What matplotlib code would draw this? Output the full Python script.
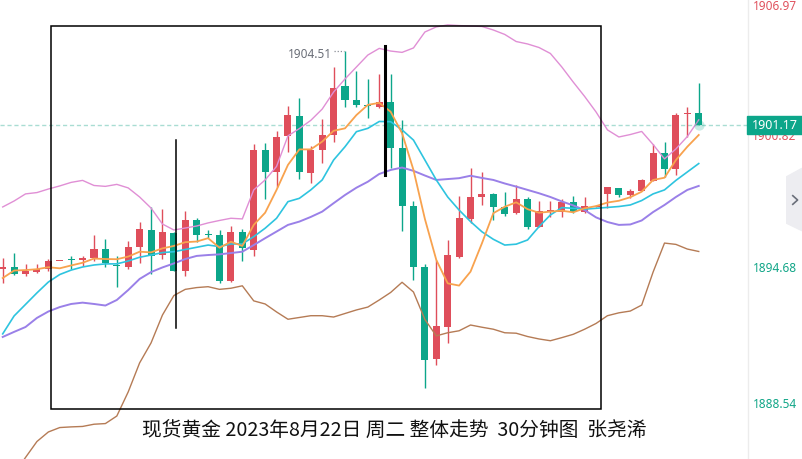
import matplotlib
matplotlib.use('Agg')
import matplotlib.pyplot as plt
import matplotlib.transforms as mtrans
from matplotlib.patches import Rectangle, Polygon
from matplotlib.lines import Line2D

# ---------------- data ----------------
opens = [1894.68, 1894.76, 1894.47, 1894.53, 1894.68, 1895.03, 1895.12, 1895.09, 1895.18, 1895.58,
         1894.86, 1894.78, 1895.69, 1896.44, 1895.31, 1896.32, 1894.60, 1896.89, 1896.23, 1896.22,
         1894.14, 1896.34, 1895.54, 1900.05, 1899.07, 1900.70, 1901.59, 1899.03, 1900.05, 1900.73,
         1902.94, 1902.31, 1902.06, 1901.98, 1902.23, 1900.16, 1897.54, 1894.78, 1890.62, 1892.07,
         1895.24, 1896.92, 1897.93, 1898.07, 1897.49, 1897.22, 1897.84, 1896.59, 1897.30, 1897.27,
         1897.69, 1897.27, 1897.49, 1898.05, 1898.32, 1898.02, 1898.22, 1898.67, 1899.90, 1899.18,
         1901.66, 1901.71]
highs = [1895.16, 1895.42, 1894.91, 1894.91, 1895.13, 1895.06, 1895.27, 1895.27, 1896.22, 1896.03,
         1895.27, 1895.94, 1896.82, 1897.49, 1897.39, 1896.34, 1897.30, 1896.97, 1896.44, 1896.44,
         1896.62, 1896.47, 1900.32, 1900.36, 1900.91, 1902.05, 1902.40, 1900.23, 1901.45, 1903.81,
         1904.51, 1903.63, 1903.25, 1903.48, 1903.48, 1901.41, 1897.76, 1894.91, 1895.09, 1895.99,
         1897.98, 1899.23, 1899.07, 1898.09, 1898.17, 1898.47, 1897.92, 1897.76, 1897.75, 1897.83,
         1897.98, 1897.92, 1897.56, 1898.37, 1898.33, 1898.28, 1898.74, 1900.31, 1900.41, 1901.71,
         1901.98, 1903.06]
lows = [1894.03, 1894.42, 1894.38, 1894.49, 1894.60, 1895.02, 1894.67, 1894.82, 1895.04, 1894.78,
        1893.88, 1894.69, 1894.96, 1894.44, 1895.13, 1894.58, 1894.38, 1895.91, 1896.07, 1894.06,
        1894.11, 1895.05, 1895.28, 1897.84, 1898.40, 1899.98, 1898.74, 1898.55, 1899.45, 1900.43,
        1901.98, 1901.98, 1901.50, 1901.94, 1899.25, 1896.41, 1894.18, 1889.29, 1890.35, 1891.33,
        1895.19, 1896.74, 1897.57, 1896.89, 1897.07, 1897.16, 1896.50, 1896.56, 1897.04, 1897.01,
        1897.22, 1897.22, 1897.47, 1897.42, 1897.94, 1897.87, 1898.21, 1898.66, 1898.85, 1898.92,
        1900.63, 1901.17]
closes = [1894.76, 1894.45, 1894.59, 1894.68, 1895.04, 1895.05, 1895.07, 1895.18, 1895.58, 1894.94,
          1894.82, 1895.67, 1896.49, 1895.28, 1896.35, 1894.60, 1896.89, 1896.22, 1896.20, 1894.14,
          1896.34, 1895.61, 1900.05, 1899.07, 1900.65, 1901.63, 1899.07, 1900.05, 1900.73, 1902.84,
          1902.31, 1902.09, 1902.02, 1902.23, 1900.16, 1897.54, 1894.78, 1890.57, 1892.12, 1895.31,
          1897.00, 1897.94, 1898.08, 1897.49, 1897.16, 1897.84, 1896.59, 1897.30, 1897.33, 1897.69,
          1897.27, 1897.52, 1897.54, 1898.37, 1898.02, 1898.19, 1898.70, 1899.90, 1899.18, 1901.63,
          1901.69, 1901.17]

boll_upper = [1897.48, 1897.75, 1898.07, 1898.13, 1898.29, 1898.43, 1898.59, 1898.68, 1898.45, 1898.41,
              1898.50, 1898.34, 1897.93, 1897.43, 1896.71, 1896.44, 1896.53, 1896.62, 1896.76, 1896.87,
              1896.97, 1896.94, 1898.25, 1898.70, 1899.31, 1900.69, 1901.02, 1901.39, 1901.90, 1902.67,
              1903.26, 1903.80, 1904.34, 1904.64, 1904.52, 1904.46, 1904.66, 1905.38, 1905.61, 1905.70,
              1905.67, 1905.65, 1905.63, 1905.47, 1905.27, 1904.95, 1904.84, 1904.68, 1904.41, 1903.80,
              1903.12, 1902.47, 1901.77, 1900.96, 1900.64, 1900.75, 1900.89, 1900.30, 1899.65, 1900.10,
              1900.66, 1901.41]
boll_mid = [1891.61, 1891.84, 1892.06, 1892.47, 1892.76, 1892.96, 1893.10, 1893.16, 1893.10, 1893.03,
            1893.28, 1893.73, 1894.23, 1894.54, 1894.75, 1894.93, 1895.13, 1895.27, 1895.31, 1895.34,
            1895.40, 1895.46, 1895.76, 1896.07, 1896.37, 1896.67, 1896.82, 1897.03, 1897.27, 1897.65,
            1898.02, 1898.35, 1898.62, 1898.97, 1899.15, 1899.26, 1899.11, 1898.90, 1898.70, 1898.74,
            1898.78, 1898.89, 1898.79, 1898.70, 1898.54, 1898.40, 1898.25, 1898.10, 1897.93, 1897.73,
            1897.55, 1897.34, 1897.01, 1896.80, 1896.67, 1896.69, 1896.87, 1897.25, 1897.57, 1897.93,
            1898.25, 1898.43]
boll_lower = [1884.70, 1885.42, 1886.17, 1886.89, 1887.32, 1887.52, 1887.55, 1887.57, 1887.67, 1887.70,
              1888.04, 1889.13, 1890.44, 1891.34, 1892.60, 1893.48, 1893.76, 1893.84, 1893.88, 1893.76,
              1893.81, 1893.92, 1893.24, 1893.10, 1892.74, 1892.41, 1892.49, 1892.57, 1892.57, 1892.51,
              1892.67, 1892.83, 1892.96, 1893.28, 1893.62, 1894.08, 1893.64, 1892.40, 1891.66, 1891.80,
              1891.89, 1892.15, 1892.05, 1891.96, 1891.80, 1891.78, 1891.63, 1891.52, 1891.44, 1891.58,
              1891.73, 1891.96, 1892.22, 1892.57, 1892.70, 1892.78, 1893.05, 1894.54, 1895.85, 1895.79,
              1895.58, 1895.47]
ma_fast = [1894.27, 1894.61, 1894.63, 1894.67, 1894.76, 1894.71, 1894.84, 1894.96, 1895.15, 1895.13,
           1895.12, 1895.24, 1895.46, 1895.43, 1895.61, 1895.72, 1895.89, 1895.92, 1896.07, 1895.64,
           1895.91, 1895.72, 1896.67, 1897.22, 1898.25, 1899.38, 1900.08, 1900.08, 1900.43, 1900.92,
           1901.03, 1901.63, 1902.09, 1902.18, 1901.78, 1900.81, 1899.15, 1896.94, 1895.09, 1894.03,
           1893.93, 1894.56, 1895.84, 1897.20, 1897.49, 1897.69, 1897.38, 1897.22, 1897.27, 1897.31,
           1897.24, 1897.42, 1897.52, 1897.68, 1897.76, 1897.92, 1898.17, 1898.70, 1898.80, 1899.60,
           1900.20, 1900.73]
ma_slow = [1891.75, 1892.56, 1893.08, 1893.60, 1894.09, 1894.43, 1894.63, 1894.77, 1894.86, 1894.91,
           1894.91, 1895.04, 1895.21, 1895.31, 1895.42, 1895.46, 1895.56, 1895.66, 1895.76, 1895.69,
           1895.81, 1895.81, 1896.14, 1896.52, 1896.97, 1897.72, 1897.87, 1898.25, 1898.70, 1899.60,
           1900.20, 1900.88, 1901.03, 1901.34, 1901.33, 1900.96, 1900.50, 1899.60, 1898.70, 1897.93,
           1897.34, 1896.82, 1896.36, 1896.02, 1895.76, 1895.80, 1895.99, 1896.59, 1897.12, 1897.45,
           1897.42, 1897.38, 1897.42, 1897.46, 1897.50, 1897.57, 1897.77, 1898.07, 1898.25, 1898.68,
           1899.06, 1899.44]

last_price = 1901.17
peak_value = 1904.51
peak_index = 30
tick_values = [1906.97, 1900.82, 1894.68, 1888.54]
tick_colors = ['#e0525e', '#e0525e', '#12a688', '#12a688']
title = "现货黄金 2023年8月22日 周二 整体走势  30分钟图  张尧浠"

# ---------------- figure ----------------
W, H = 802, 459
PX = 22.15          # pixels per price unit
fig = plt.figure(figsize=(W / 100, H / 100), dpi=100)
ax = fig.add_axes([0, 0, 747 / W, 1])
ymin, ymax = 1886.10, 1906.825
ax.set_xlim(-0.237, 65.23)
ax.set_ylim(ymin, ymax)
ax.axis('off')

RED, GREEN = '#df4e5b', '#0ca68a'
n = len(opens)
xs = list(range(n))
cols = [RED if c >= o else GREEN for o, c in zip(opens, closes)]

# current price dashed line
ax.axhline(last_price, color='#a9ddd3', lw=1.0, ls=(0, (3, 2)), zorder=1)

# candles
ax.vlines(xs, lows, highs, colors=cols, lw=1.0, zorder=2)
bottoms = [min(o, c) for o, c in zip(opens, closes)]
heights = [max(abs(c - o), 0.045) for o, c in zip(opens, closes)]
ax.bar(xs, heights, bottom=bottoms, width=0.62, color=cols, zorder=3, linewidth=0)

# indicator lines
ax.plot(xs, boll_upper, color='#e08fd5', lw=1.0, zorder=4)
ax.plot(xs, boll_lower, color='#b57b55', lw=1.0, zorder=4)
ax.plot(xs, boll_mid, color='#9a80e8', lw=1.4, zorder=4)
ax.plot(xs, ma_slow, color='#2ec4df', lw=1.2, zorder=5)
ax.plot(xs, ma_fast, color='#f8a24e', lw=1.3, zorder=5)

# glow at last close
ax.scatter([n - 1], [last_price], s=55, color=GREEN, alpha=0.22, zorder=6, linewidths=0)

# peak label
ax.plot([peak_index - 11 / 11.41, peak_index - 1 / 11.41], [peak_value, peak_value],
        ls=(0, (1, 1.5)), color='#8a8e96', lw=0.9, zorder=6)
ax.annotate(f"{peak_value:.2f}", xy=(peak_index, peak_value), xytext=(-13, -3),
            textcoords='offset pixels', ha='right', va='center', fontsize=8.5,
            family='Noto Sans', color='#6b6f78', zorder=7)

# hand-drawn annotations: box and vertical lines
ax.add_patch(Rectangle((4.23, 1888.36), 52.44 - 4.23, 1905.65 - 1888.36,
                       fill=False, ec='black', lw=1.1, zorder=8))
ax.plot([15.19, 15.19], [1892.02, 1900.50], color='black', lw=1.1, zorder=8)
ax.plot([33.5, 33.5], [1898.92, 1904.75], color='black', lw=2.2, zorder=8)

# right price scale
fig.add_artist(Line2D([747.5 / W] * 2, [0, 1], color='#ececec', lw=1.0))
trans = mtrans.blended_transform_factory(fig.transFigure, ax.transData)
for v, c in zip(tick_values, tick_colors):
    yv = min(v, ymax - 7 / PX)
    if abs(v - last_price) < 12 / PX:
        yv = v - 3.5 / PX   # pushed down below the current-price tag as in the reference
    fig.text(774.5 / W, yv, f"{v:.2f}", transform=trans, ha='center', va='center',
             fontsize=8.5, family='Noto Sans', color=c, zorder=2)
fig.add_artist(Rectangle((747 / W, last_price - 9 / PX), 55 / W, 18 / PX,
                         transform=trans, color='#0ca68a', zorder=3))
fig.text(774.5 / W, last_price, f"{last_price:.2f}", transform=trans, ha='center',
         va='center', fontsize=9, family='Noto Sans', color='white', zorder=4)

# collapse button
btn = Polygon([(786.7 / W, 1 - 176.7 / H), (802 / W, 1 - 168.3 / H), (802 / W, 1 - 230.7 / H),
               (786.7 / W, 1 - 223.3 / H)], closed=True, transform=fig.transFigure,
              color='#ededf1', zorder=2)
fig.add_artist(btn)
fig.add_artist(Line2D([792.8 / W, 797.6 / W, 792.8 / W], [1 - 195.7 / H, 1 - 200 / H, 1 - 204.3 / H],
                      color='#6a6f7a', lw=1.2, zorder=3))

# title
fig.text(394 / W, 1 - 431 / H, title, ha='center', va='center', fontsize=14.2,
         family=['Noto Sans CJK SC', 'DejaVu Sans'], color='#111111')

fig.savefig('out.png', dpi=100)
